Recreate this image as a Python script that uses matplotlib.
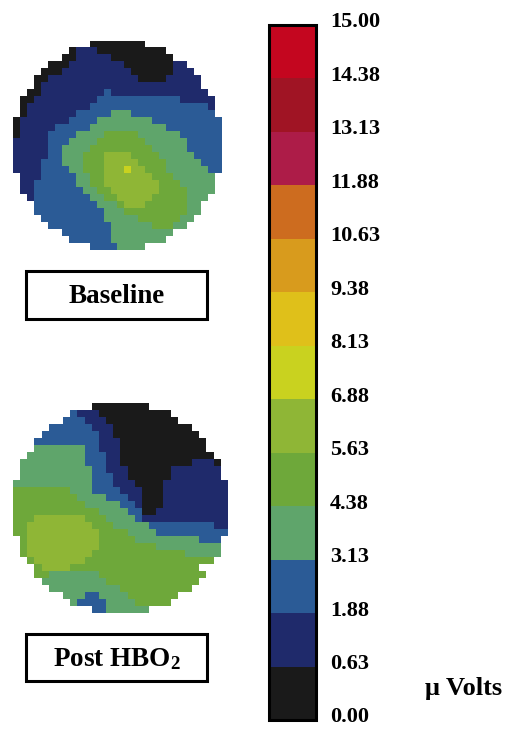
import numpy as np
import matplotlib
matplotlib.use('Agg')
import matplotlib.pyplot as plt
from matplotlib.colors import ListedColormap, BoundaryNorm
from matplotlib.cm import ScalarMappable
from matplotlib.patches import Rectangle
from matplotlib.transforms import ScaledTranslation

# ---------------- data ----------------
boundaries = [0.0, 0.63, 1.88, 3.13, 4.38, 5.63, 6.88, 8.13, 9.38, 10.63, 11.88, 13.13, 14.38, 15.0]
tick_labels = ['0.00', '0.63', '1.88', '3.13', '4.38', '5.63', '6.88', '8.13',
               '9.38', '10.63', '11.88', '13.13', '14.38', '15.00']
band_colors = ['#1a1a1a', '#1f2a6b', '#2b5b96', '#5fa56b', '#6ea83a', '#8fb636',
               '#c9d21f', '#dfc01a', '#d89b1d', '#cd6c1f', '#ad1c48', '#a01424', '#c4061f']
unit_label = 'μ Volts'
map_titles = ['Baseline', 'Post HBO$_2$']

# level index of each map cell ('.' = outside the head)
baseline_rows = [
    "...........00000000...........",
    "........01110000000000........",
    ".......0011111000000000.......",
    ".....00011111111000000011.....",
    "....0001111111111000000111....",
    "...001111111111111000011111...",
    "...011111111111111111111111...",
    "..00111111111211111111111111..",
    ".0011111111122222222222211111.",
    ".0111111111222222222222222221.",
    ".0111111122222333222222222222.",
    "011111112222333333332222222222",
    "011111222223333333333322222222",
    "011112222333344444333333222222",
    "111112223333444444433333322222",
    "111112233334444444443333322222",
    "111112233344455554444333332222",
    "111122233344455555444433333222",
    "111122223344455565544433333322",
    ".1112222233445555555444333333.",
    ".1122222233445555555544433333.",
    ".1122222223344555555544443333.",
    "..12222222233445555544444333..",
    "...222222222333455544444433...",
    "...222222222233344444444433...",
    "....2222222223333344444433....",
    ".....22222222233333344433.....",
    ".......2222222333333333.......",
    "........22222233333333........",
    "...........22223333...........",
]

post_rows = [
    "...........00000000...........",
    "........21110000000000........",
    ".......2221110000000000.......",
    ".....22222211100000000000.....",
    "....2222222211000000000000....",
    "...222222222111000000000000...",
    "...333333322111000000000000...",
    "..33333333222110000000000000..",
    ".3333333332221100000000001110.",
    ".3333333333221110000001111111.",
    ".3333333333222110000001111111.",
    "333333333332221110000111111111",
    "444444443332222111000111111111",
    "444444444333322211000111111111",
    "444444444433333221000111111111",
    "444444444444333322001111111111",
    "444555555544433332111111111111",
    "445555555554443333322222222211",
    "445555555555444433332222222222",
    ".4555555555544444333333333222.",
    ".4555555555544444444333333333.",
    ".4555555555444444444444433333.",
    "..45555555444444444444444444..",
    "...45555444444444444444444...",
    "...443333333444444444444444...",
    "....3333333334444444444444....",
    ".....33333333334444444444.....",
    ".......3332233334444444.......",
    "........32222333344444........",
    "...........22333333...........",
]

# ---------------- styling ----------------
plt.rcParams['font.family'] = ['Liberation Serif', 'DejaVu Serif']
plt.rcParams['font.weight'] = 'bold'
plt.rcParams['mathtext.fontset'] = 'custom'
plt.rcParams['mathtext.rm'] = 'Liberation Serif:bold'
plt.rcParams['mathtext.it'] = 'Liberation Serif:bold'
plt.rcParams['mathtext.bf'] = 'Liberation Serif:bold'

W, H = 512, 733
fig = plt.figure(figsize=(W / 100, H / 100), dpi=100)
fig.patch.set_facecolor('white')


def box(x0, y0, x1, y1):
    """pixel box (top-left origin) -> figure fraction [l, b, w, h]"""
    return [x0 / W, 1 - y1 / H, (x1 - x0) / W, (y1 - y0) / H]


cmap = ListedColormap(band_colors)
cmap.set_bad((1, 1, 1, 0))
norm = BoundaryNorm(boundaries, cmap.N)
mids = [(boundaries[i] + boundaries[i + 1]) / 2 for i in range(len(boundaries) - 1)]


def rows_to_values(rows):
    ncol = max(len(r) for r in rows)
    arr = np.full((len(rows), ncol), np.nan)
    for r, row in enumerate(rows):
        for c, ch in enumerate(row):
            if ch != '.':
                arr[r, c] = mids[int(ch)]
    return np.ma.masked_invalid(arr)


map_boxes = [box(13, 41, 222, 250), box(13, 403, 228, 613)]
for rows, rect in zip([baseline_rows, post_rows], map_boxes):
    ax = fig.add_axes(rect)
    ax.imshow(rows_to_values(rows), cmap=cmap, norm=norm,
              interpolation='nearest', aspect='auto')
    ax.set_axis_off()

# label boxes
label_boxes = [(26, 271, 207, 319), (26, 634, 207, 681)]
for title, (x0, y0, x1, y1) in zip(map_titles, label_boxes):
    l, b, w, h = box(x0, y0, x1, y1)
    fig.add_artist(Rectangle((l, b), w, h, transform=fig.transFigure,
                             fill=False, lw=2.2, ec='black'))
    fig.text(l + w / 2, b + h / 2 - 0.002, title, ha='center', va='center',
             fontsize=19.5, fontweight='bold')

# colorbar
cax = fig.add_axes(box(269, 25, 316, 720))
cbar = fig.colorbar(ScalarMappable(norm=norm, cmap=cmap), cax=cax,
                    spacing='uniform', ticks=boundaries)
cbar.set_ticks(boundaries, labels=tick_labels)
cbar.outline.set_linewidth(2.2)
cax.tick_params(length=0, pad=10, labelsize=16)
offset = ScaledTranslation(0, 5 / 100, fig.dpi_scale_trans)
for lab in cax.get_yticklabels():
    lab.set_fontweight('bold')
    lab.set_transform(lab.get_transform() + offset)

fig.text(425 / W, 1 - 688 / H, unit_label, ha='left', va='center',
         fontsize=19, fontweight='bold')

fig.savefig('out.png', dpi=100, facecolor='white')
